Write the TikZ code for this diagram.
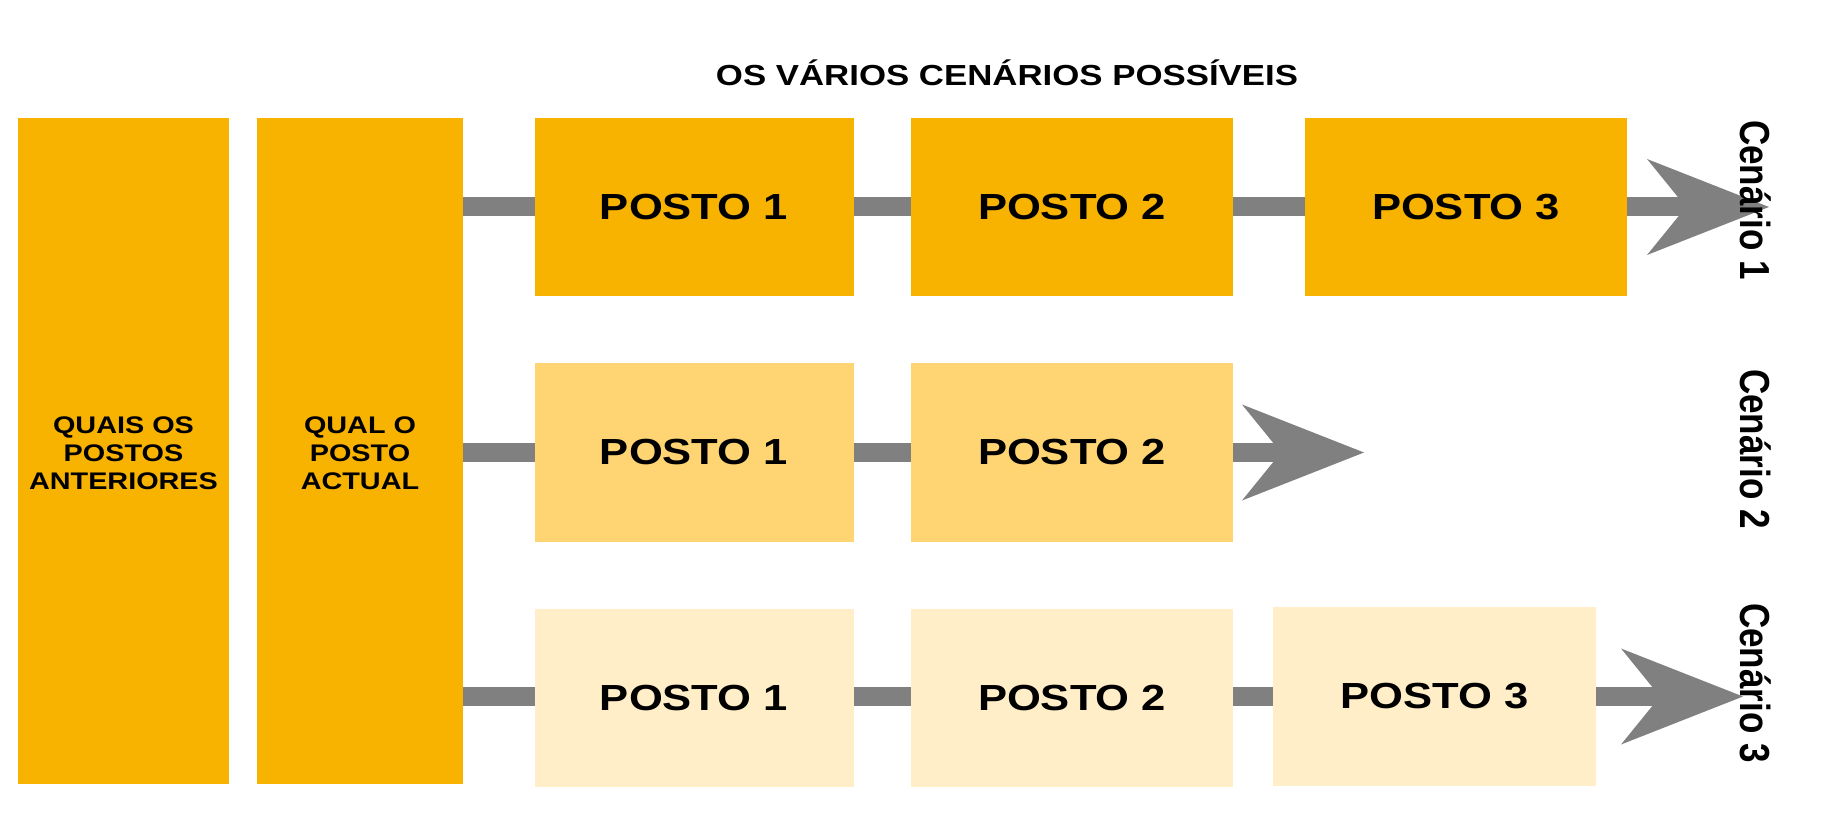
\documentclass[tikz,border=0pt]{standalone}
\usepackage{fontspec}
\setmainfont{Liberation Sans}
\usepackage{graphicx}
\usetikzlibrary{arrows.meta}
\definecolor{orA}{RGB}{248,178,0}
\definecolor{orB}{RGB}{254,213,114}
\definecolor{orC}{RGB}{255,238,199}
\definecolor{barg}{RGB}{128,128,128}
\newcommand{\hstr}[1]{\scalebox{1.2}[1]{#1}}
\tikzset{
  box/.style={inner sep=0pt, outer sep=0pt, minimum width=#1},
  tall/.style={box=#1, minimum height=666pt, fill=orA},
  sidetext/.style={inner sep=0pt, align=center, font=\fontsize{24}{28}\selectfont\bfseries},
  posto/.style={box=#1, minimum height=178pt, font=\fontsize{36.3}{40}\selectfont\bfseries},
  bar/.style={draw=barg, line width=19pt, line cap=butt},
  arr/.style={bar, -{Stealth[length=122pt,width=96pt,inset=39pt,line width=0pt]}},
  scen/.style={rotate=-90, inner sep=0pt, font=\fontsize{35}{38}\selectfont\bfseries},
}
\begin{document}
\begin{tikzpicture}[x=1pt,y=-1pt]
\useasboundingbox (0,0) rectangle (1828,834);
% title
\node[inner sep=0pt, font=\fontsize{29}{32}\selectfont\bfseries] (title) at (1007,73) {\hstr{OS VÁRIOS CENÁRIOS POSSÍVEIS}};
% left columns
\node[tall=211pt] (ant) at (123.5,451) {};
\node[tall=206pt] (act) at (360,451) {};
\node[sidetext] (antt) at ([yshift=-4.5pt]ant.center) {\hstr{\begin{tabular}{@{}c@{}}QUAIS OS\\POSTOS\\ANTERIORES\end{tabular}}};
\node[sidetext] (actt) at ([yshift=-4.5pt]act.center) {\hstr{\begin{tabular}{@{}c@{}}QUAL O\\POSTO\\ACTUAL\end{tabular}}};
% row 1
\node[posto=319pt, fill=orA] (b11) at (694,207) {\hstr{POSTO 1}};
\node[posto=322pt, fill=orA] (b12) at (1072,207) {\hstr{POSTO 2}};
\node[posto=322pt, fill=orA] (b13) at (1466,207) {\hstr{POSTO 3}};
% row 2
\node[posto=319pt, fill=orB, minimum height=179pt] (b21) at (694,452.5) {\hstr{POSTO 1}};
\node[posto=322pt, fill=orB, minimum height=179pt] (b22) at (1072,452.5) {\hstr{POSTO 2}};
% row 3
\node[posto=319pt, fill=orC] (b31) at (694,698) {\hstr{POSTO 1}};
\node[posto=322pt, fill=orC] (b32) at (1072,698) {\hstr{POSTO 2}};
\node[posto=323pt, fill=orC, minimum height=179pt] (b33) at (1434.5,696.5) {\hstr{POSTO 3}};
% arrow ends
\coordinate (e1) at ([xshift=142pt]b13.east);
\coordinate (e2) at ([xshift=131pt]b22.east);
\coordinate (e3) at ([xshift=147pt]b33.east);
% connectors
\draw[bar] (act.east |- b11.west) -- (b11.west);
\draw[bar] (b11.east) -- (b12.west);
\draw[bar] (b12.east) -- (b13.west);
\draw[arr] (b13.east) -- (e1);
\draw[bar] (act.east |- b21.west) -- (b21.west);
\draw[bar] (b21.east) -- (b22.west);
\draw[arr] (b22.east) -- (e2);
\draw[bar] (act.east |- b33.west) -- (b31.west |- b33.west);
\draw[bar] (b31.east |- b33.west) -- (b32.west |- b33.west);
\draw[bar] (b32.east |- b33.west) -- (b33.west);
\draw[arr] (b33.east) -- (e3);
% scenario labels
\node[scen] (s1) at (1756,200) {\scalebox{1}[1.2]{Cenário 1}};
\node[scen] (s2) at (1756,449) {\scalebox{1}[1.2]{Cenário 2}};
\node[scen] (s3) at (1756,683) {\scalebox{1}[1.2]{Cenário 3}};
\end{tikzpicture}
\end{document}
